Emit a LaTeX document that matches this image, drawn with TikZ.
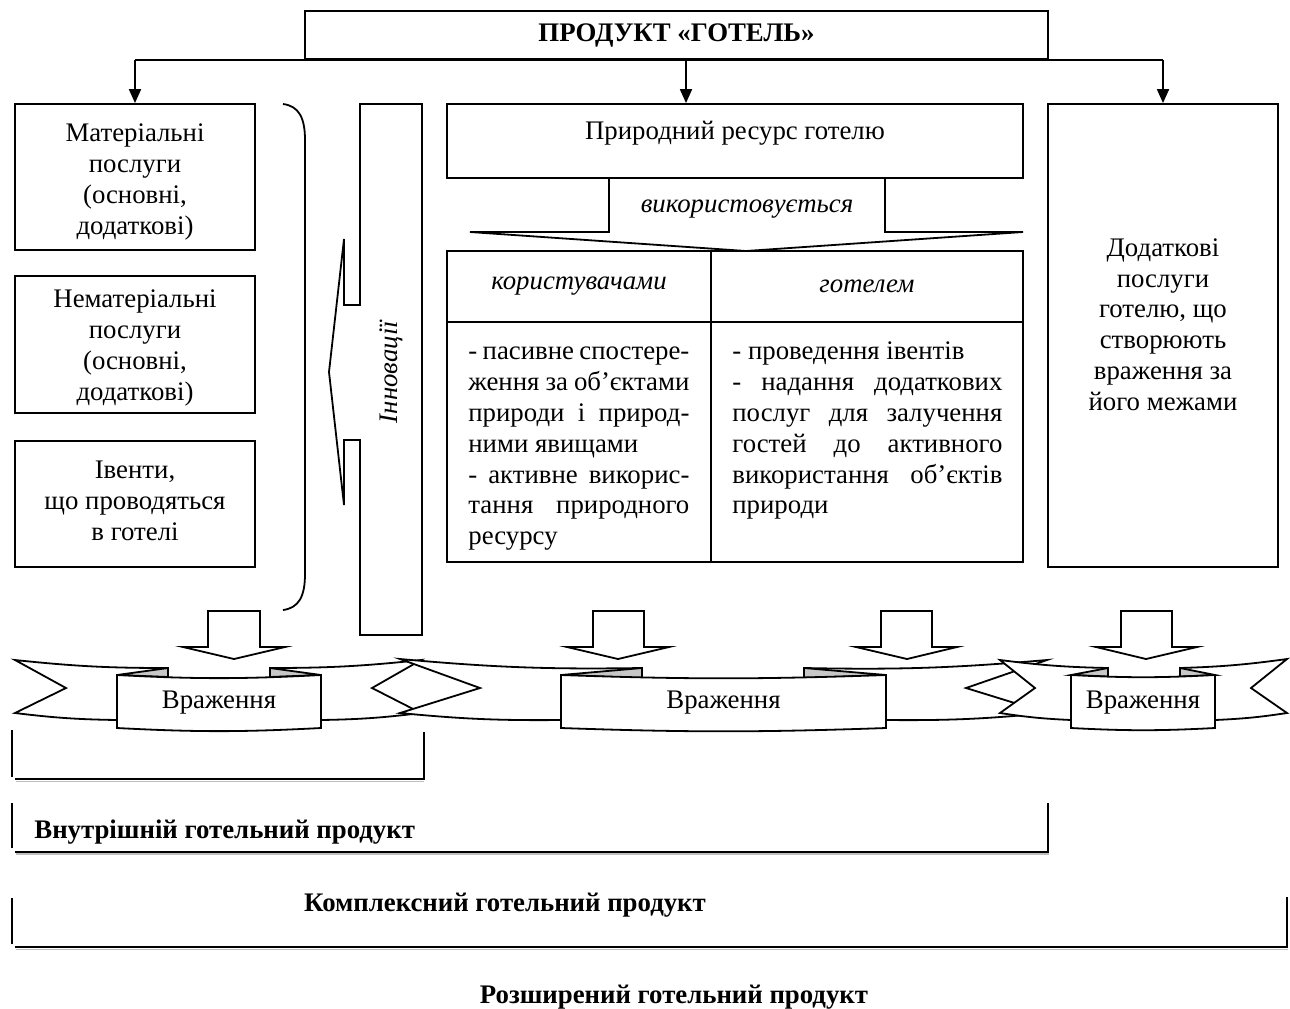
\documentclass[tikz,border=0pt]{standalone}
\usepackage{fontspec}
\setmainfont{Liberation Serif}
\usetikzlibrary{arrows.meta,calc}

\begin{document}
\begin{tikzpicture}[x=0.5pt,y=-0.5pt,
  every node/.style={font=\fontsize{13.4}{15.4}\selectfont, inner sep=0pt},
  box/.style={draw, line width=0.9pt, fill=white, align=center},
  ln/.style={line width=0.9pt},
  arr/.style={line width=0.9pt, -{Triangle[length=7pt,width=6pt]}},
  blockarrow/.style={draw, line width=0.9pt, fill=white, line join=miter},
  ribbon/.style={draw, line width=0.9pt, fill=white, line join=miter},
  fold/.style={draw, line width=0.9pt, fill=black!22, line join=miter},
  bracket/.style={line width=0.9pt},
  shadow/.style={line width=0.6pt, black!25},
  title/.style={font=\fontsize{13.4}{15.4}\selectfont\bfseries},
  ital/.style={font=\fontsize{13.4}{15.4}\selectfont\itshape},
]
\useasboundingbox (0,0) rectangle (1290,1008);

% ---------- product box and its three branches ----------
\node[box, title, minimum width=371.5pt, minimum height=24pt] (top) at (676.5,35) {ПРОДУКТ «ГОТЕЛЬ»};

\node[box, minimum width=120pt, minimum height=73pt] (m1) at (135,177) {};
\node[align=center] (m1text) at (135,182) {Матеріальні\\послуги\\(основні,\\додаткові)};
\node[box, minimum width=120pt, minimum height=68.5pt] (m2) at (135,344.5) {};
\node[align=center] (m2text) at (135,348) {Нематеріальні\\послуги\\(основні,\\додаткові)};
\node[box, minimum width=120pt, minimum height=63pt] (m3) at (135,504) {};
\node[align=center] (m3text) at (135,501) {Івенти,\\що проводяться\\в готелі};

\node[box, minimum width=288pt, minimum height=37pt] (res) at (735,141) {};
\node (restext) at (735,133) {Природний ресурс готелю};

\node[box, minimum width=115pt, minimum height=231.5pt] (add) at (1163,335.5) {};
\node[align=center] (addtext) at (1163,324.5)
  {Додаткові\\послуги\\готелю, що\\створюють\\враження за\\його межами};

\coordinate (midtap) at (686,0);
\draw[ln] (m1.north |- top.south) -- (add.north |- top.south);
\draw[arr] (m1.north |- top.south) -- (m1.north);
\draw[arr] (midtap |- top.south) -- (midtap |- res.north);
\draw[arr] (add.north |- top.south) -- (add.north);

% ---------- brace and the innovations arrow ----------
\draw[ln] (283,104) .. controls (299,106) and (305,118) .. (305,140) -- (305,574)
  .. controls (305,596) and (299,608) .. (283,610);

\draw[ln, line join=miter] (360,104) -- (422,104) -- (422,635) -- (360,635) -- (360,440)
  -- (344,440) -- (344,505) -- (329,372) -- (344,239) -- (344,305) -- (360,305) -- cycle;
\node[ital, rotate=90] (innov) at (391,372) {Інновації};

% ---------- "used by" arrow and the table ----------
\draw[ln, line join=miter] (609,178) -- (609,232) -- (470,232) -- (746,251)
  -- (1023,232) -- (885,232) -- (885,178);
\node[ital] (uses) at (747,209) {використовується};

\node[box, ital, minimum width=132pt, minimum height=35.5pt] (h1) at (579,286.5) {користувачами};
\node[box, ital, minimum width=156pt, minimum height=35.5pt] (h2) at (867,286.5) {готелем};
\node[box, minimum width=132pt, minimum height=120pt] (c1) at (579,442) {};
\node[box, minimum width=156pt, minimum height=120pt] (c2) at (867,442) {};

\node[anchor=north west, align=left] (t1) at (468,338) {%
  \strut\makebox[110.5pt][s]{- пасивне спостере-}\\
  \strut\makebox[110.5pt][s]{ження за об’єктами}\\
  \strut\makebox[110.5pt][s]{природи і природ-}\\
  \strut\makebox[110.5pt][l]{ними явищами}\\
  \strut\makebox[110.5pt][s]{- активне викорис-}\\
  \strut\makebox[110.5pt][s]{тання природного}\\
  \strut\makebox[110.5pt][l]{ресурсу}};
\node[anchor=north west, align=left] (t2) at (732,338) {%
  \strut\makebox[135pt][l]{- проведення івентів}\\
  \strut\makebox[135pt][s]{- надання додаткових}\\
  \strut\makebox[135pt][s]{послуг для залучення}\\
  \strut\makebox[135pt][s]{гостей до активного}\\
  \strut\makebox[135pt][s]{використання об’єктів}\\
  \strut\makebox[135pt][l]{природи}};

% ---------- block arrows ----------
\draw[blockarrow] (208,611) -- (260,611) -- (260,647) -- (285,647) -- (234,659) -- (183,647) -- (208,647) -- cycle;
\draw[blockarrow] (593,611) -- (644,611) -- (644,647) -- (669,647) -- (618,659) -- (567,647) -- (593,647) -- cycle;
\draw[blockarrow] (881,611) -- (932,611) -- (932,647) -- (957,647) -- (907,659) -- (856,647) -- (881,647) -- cycle;
\draw[blockarrow] (1121,611) -- (1172,611) -- (1172,647) -- (1197,647) -- (1146,659) -- (1096,647) -- (1121,647) -- cycle;

% ---------- ribbons ----------
% ribbon 1
\filldraw[ribbon] (15,660) to[bend right=3] (168,668) -- (168,695) -- (117,695) -- (117,720)
  to[bend left=3] (15,713) -- (66,688) -- cycle;
\filldraw[ribbon] (421,660) to[bend left=3] (270,668) -- (270,695) -- (321,695) -- (321,720)
  to[bend right=3] (421,713) -- (372,688) -- cycle;
\filldraw[fold] (117,675) -- (168,668) -- (168,677) -- cycle;
\filldraw[fold] (321,675) -- (270,668) -- (270,677) -- cycle;
\filldraw[ribbon] (117,675) to[bend right=3] (321,675) -- (321,728) to[bend left=3] (117,728) -- cycle;
\node (v1) at (219,703) {Враження};

% ribbon 2
\filldraw[ribbon] (400,659) to[bend right=3] (642,668) -- (642,695) -- (561,695) -- (561,720)
  to[bend left=3] (400,713) -- (480,688) -- cycle;
\filldraw[ribbon] (1047,660) to[bend left=3] (804,668) -- (804,695) -- (886,695) -- (886,720)
  to[bend right=3] (1047,713) -- (966,688) -- cycle;
\filldraw[fold] (561,675) -- (642,668) -- (642,678) -- cycle;
\filldraw[fold] (886,675) -- (804,668) -- (804,678) -- cycle;
\filldraw[ribbon] (561,675) to[bend right=2] (886,675) -- (886,728) to[bend left=2] (561,728) -- cycle;
\node (v2) at (723.5,703) {Враження};

% ribbon 3
\filldraw[ribbon] (1000,660) to[bend right=3] (1108,668) -- (1108,695) -- (1071,695) -- (1071,720)
  to[bend left=3] (1000,713) -- (1035,688) -- cycle;
\filldraw[ribbon] (1287,659) to[bend left=3] (1180,668) -- (1180,695) -- (1215,695) -- (1215,720)
  to[bend right=3] (1287,713) -- (1251,688) -- cycle;
\filldraw[fold] (1071,675) -- (1108,668) -- (1108,676.5) -- cycle;
\filldraw[fold] (1215,675) -- (1180,668) -- (1180,676.5) -- cycle;
\filldraw[ribbon] (1071,675) to[bend right=3] (1215,675) -- (1215,728) to[bend left=3] (1071,728) -- cycle;
\node (v3) at (1143,703) {Враження};

% ---------- scope brackets ----------
\draw[bracket] (12,730) -- (12,777);
\draw[shadow] (16,781.5) -- (424,781.5);
\draw[bracket] (15,779) -- (424,779) -- (424,732);

\draw[bracket] (12,803) -- (12,848);
\draw[shadow] (16,854) -- (1049,854);
\draw[bracket] (15,852) -- (1048,852) -- (1048,803);

\draw[bracket] (12,898) -- (12,944);
\draw[shadow] (16,949.5) -- (1288,949.5);
\draw[bracket] (15,947) -- (1287,947) -- (1287,897);

\node[title, anchor=west] (inner) at (34,832) {Внутрішній готельний продукт};
\node[title] (complex) at (505,905) {Комплексний готельний продукт};
\node[title] (extended) at (674,997) {Розширений готельний продукт};
\end{tikzpicture}
\end{document}
